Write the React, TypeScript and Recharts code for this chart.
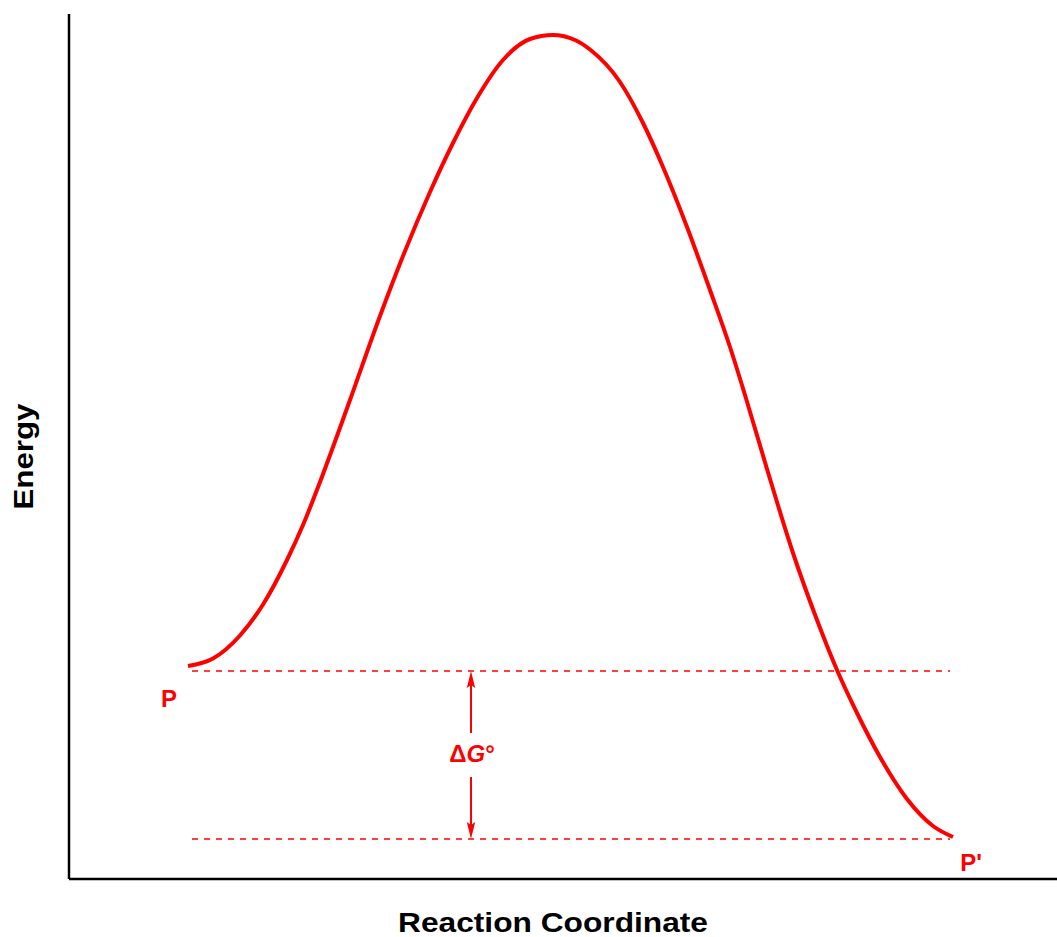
import React from 'react';
import { ComposedChart, Line, XAxis, YAxis, ReferenceLine, Scatter } from 'recharts';

// Reaction coordinate (x) and energy (y) of the curve
const reactionCoord = [119, 144, 171, 194, 218, 234, 251, 268, 281, 311, 334, 361, 384, 408, 434, 461, 484, 506, 521, 551, 574, 594, 618, 641, 661, 676, 698, 724, 748, 768, 788, 811, 838, 864, 884];
const energy = [213, 220.5, 243.5, 274.5, 319, 354, 397, 443, 479, 563, 623, 687, 736, 781, 819, 840, 844, 839, 829.5, 797, 756, 712, 652, 589, 532, 484, 410, 326, 259, 209, 166, 122, 80, 53, 42];

const curveData = reactionCoord.map((x, i) => ({ x, e: energy[i] }));

// Energy levels of P and P'
const levelP = 208;
const levelPprime = 40;
const levelStart = 123;
const levelEnd = 881;

// ΔG° arrow
const arrowX = 402;
const arrowGapTop = 146;
const arrowGapBottom = 102;

// Annotations
const annotationText = ['P', "P'", 'ΔG°'];
const annotationX = [100, 902, 403];
const annotationY = [172, 8, 117];

const arrowHeads = [
  { x: arrowX, y: levelP, dir: 'up' },
  { x: arrowX, y: levelPprime, dir: 'down' },
];

const annotations = annotationText.map((t, i) => ({ x: annotationX[i], y: annotationY[i], t }));

const RED = '#ff0000';
const FONT = '"Liberation Sans", Arial, Helvetica, sans-serif';

const ArrowHead = (props: any) => {
  const { cx, cy, payload } = props;
  const s = payload.dir === 'up' ? 1 : -1;
  const len = 17;
  const hw = 4.2;
  const pts = `${cx},${cy} ${cx - hw},${cy + s * len} ${cx},${cy + s * (len - 3)} ${cx + hw},${cy + s * len}`;
  return <polygon points={pts} fill={RED} stroke="none" />;
};

const Annotation = (props: any) => {
  const { cx, cy, payload } = props;
  if (payload.t === 'ΔG°') {
    return (
      <text x={cx} y={cy} textAnchor="middle" fill={RED} fontFamily={FONT} fontWeight="bold" fontSize={24}>
        <tspan>Δ</tspan>
        <tspan fontStyle="italic">G</tspan>
        <tspan>°</tspan>
      </text>
    );
  }
  return (
    <text x={cx} y={cy} textAnchor="middle" fill={RED} fontFamily={FONT} fontWeight="bold" fontSize={24}>
      {payload.t}
    </text>
  );
};

export default function App() {
  return (
    <div style={{ position: 'absolute', left: 0, top: 0, width: 1057, height: 937, background: '#fff' }}>
      <ComposedChart
        width={1057}
        height={937}
        data={curveData}
        margin={{ top: 14, right: 0, bottom: 0, left: 0 }}
      >
        <XAxis
          dataKey="x"
          type="number"
          domain={[0, 988]}
          allowDataOverflow
          height={58}
          tick={false}
          tickLine={false}
          axisLine={{ stroke: '#000', strokeWidth: 2.5 }}
          label={(p: any) => {
            const vb = p.viewBox || {};
            return (
              <text
                x={vb.x + vb.width / 2 - 10}
                y={vb.y + 53}
                textAnchor="middle"
                fontFamily={FONT}
                fontWeight="bold"
                fontSize={28}
                fill="#000"
                textLength={310}
                lengthAdjust="spacingAndGlyphs"
              >
                Reaction Coordinate
              </text>
            );
          }}
        />
        <YAxis
          type="number"
          domain={[0, 865]}
          allowDataOverflow
          width={69}
          tick={false}
          tickLine={false}
          axisLine={{ stroke: '#000', strokeWidth: 2.5 }}
          label={(p: any) => {
            const vb = p.viewBox || {};
            const cx = 33;
            const cy = vb.y + vb.height / 2 + 10;
            return (
              <text
                x={cx}
                y={cy}
                transform={`rotate(-90, ${cx}, ${cy})`}
                textAnchor="middle"
                fontFamily={FONT}
                fontWeight="bold"
                fontSize={28}
                fill="#000"
                textLength={106}
                lengthAdjust="spacingAndGlyphs"
              >
                Energy
              </text>
            );
          }}
        />
        <ReferenceLine
          segment={[{ x: levelStart, y: levelP }, { x: levelEnd, y: levelP }]}
          stroke={RED}
          strokeWidth={1.5}
          strokeDasharray="6 6"
        />
        <ReferenceLine
          segment={[{ x: levelStart, y: levelPprime }, { x: levelEnd, y: levelPprime }]}
          stroke={RED}
          strokeWidth={1.5}
          strokeDasharray="6 6"
        />
        <ReferenceLine
          segment={[{ x: arrowX, y: levelP - 10 }, { x: arrowX, y: arrowGapTop }]}
          stroke={RED}
          strokeWidth={2}
        />
        <ReferenceLine
          segment={[{ x: arrowX, y: arrowGapBottom }, { x: arrowX, y: levelPprime + 10 }]}
          stroke={RED}
          strokeWidth={2}
        />
        <Line
          dataKey="e"
          type="monotone"
          stroke={RED}
          strokeWidth={4}
          dot={false}
          activeDot={false}
          isAnimationActive={false}
        />
        <Scatter data={arrowHeads} dataKey="y" shape={ArrowHead} isAnimationActive={false} />
        <Scatter data={annotations} dataKey="y" shape={Annotation} isAnimationActive={false} />
      </ComposedChart>
    </div>
  );
}
